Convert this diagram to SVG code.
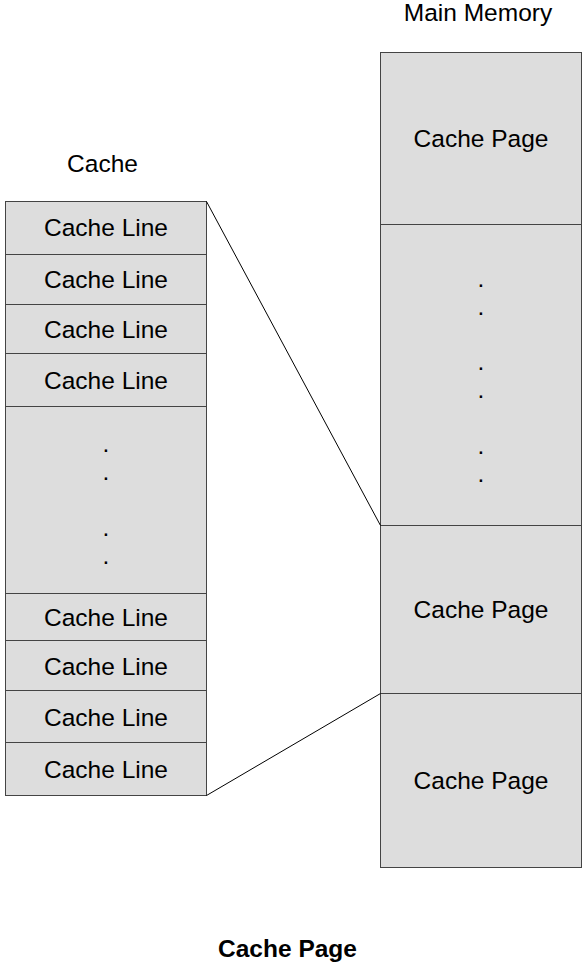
<svg xmlns="http://www.w3.org/2000/svg" width="586" height="966" viewBox="0 0 586 966">
<style>
.box{fill:#dddddd;stroke:#444444;stroke-width:1}
.t{font-family:"Liberation Sans",Arial,sans-serif;font-size:24.5px;fill:#000;text-anchor:middle}
.b{font-weight:bold}
.conn{stroke:#000;stroke-width:1;fill:none}
</style>
<rect width="586" height="966" fill="#ffffff"/>
<text class="t" x="478" y="21">Main Memory</text>
<text class="t" x="102.5" y="172">Cache</text>
<g id="cache">
<g id="cl1"><rect class="box" x="5.5" y="201.5" width="201" height="53"/><text class="t" x="106" y="236">Cache Line</text></g>
<g id="cl2"><rect class="box" x="5.5" y="254.5" width="201" height="50"/><text class="t" x="106" y="288">Cache Line</text></g>
<g id="cl3"><rect class="box" x="5.5" y="304.5" width="201" height="49"/><text class="t" x="106" y="337.5">Cache Line</text></g>
<g id="cl4"><rect class="box" x="5.5" y="353.5" width="201" height="53"/><text class="t" x="106" y="388.5">Cache Line</text></g>
<g id="cdots"><rect class="box" x="5.5" y="406.5" width="201" height="187"/>
<text class="t" x="106" y="452">.</text><text class="t" x="106" y="480">.</text><text class="t" x="106" y="536">.</text><text class="t" x="106" y="564">.</text></g>
<g id="cl5"><rect class="box" x="5.5" y="593.5" width="201" height="47"/><text class="t" x="106" y="626">Cache Line</text></g>
<g id="cl6"><rect class="box" x="5.5" y="640.5" width="201" height="50"/><text class="t" x="106" y="675">Cache Line</text></g>
<g id="cl7"><rect class="box" x="5.5" y="690.5" width="201" height="52"/><text class="t" x="106" y="725.5">Cache Line</text></g>
<g id="cl8"><rect class="box" x="5.5" y="742.5" width="201" height="53"/><text class="t" x="106" y="777.5">Cache Line</text></g>
</g>
<g id="memory">
<g id="mp1"><rect class="box" x="380.5" y="52.5" width="201" height="172"/><text class="t" x="481" y="147">Cache Page</text></g>
<g id="mdots"><rect class="box" x="380.5" y="224.5" width="201" height="301"/>
<text class="t" x="481" y="287">.</text><text class="t" x="481" y="315">.</text><text class="t" x="481" y="370">.</text><text class="t" x="481" y="398">.</text><text class="t" x="481" y="454">.</text><text class="t" x="481" y="482">.</text></g>
<g id="mp2"><rect class="box" x="380.5" y="525.5" width="201" height="168"/><text class="t" x="481" y="618">Cache Page</text></g>
<g id="mp3"><rect class="box" x="380.5" y="693.5" width="201" height="174"/><text class="t" x="481" y="789">Cache Page</text></g>
</g>
<g id="connectors">
<line class="conn" x1="206.5" y1="201.5" x2="380.5" y2="525.5"/>
<line class="conn" x1="206.5" y1="795.5" x2="380.5" y2="693.5"/>
</g>
<text class="t b" x="287.5" y="957">Cache Page</text>
</svg>
